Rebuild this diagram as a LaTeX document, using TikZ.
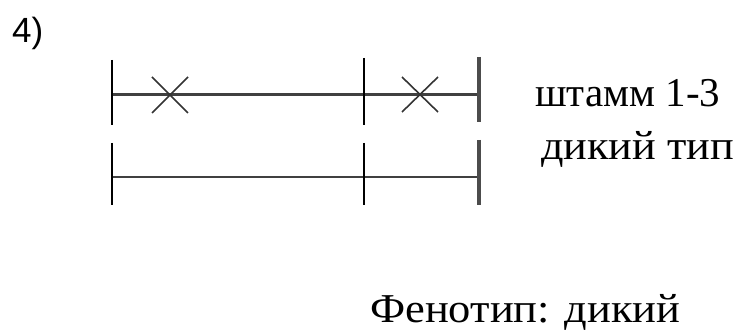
\documentclass[tikz,border=0pt]{standalone}
\usepackage{fontspec}
\setmainfont{Liberation Serif}
\newfontfamily\labelsans{Liberation Sans}
\begin{document}
\begin{tikzpicture}[x=1pt,y=-1pt,
  tick/.style={line width=2pt,black},
  endtick/.style={line width=3.2pt,black!70},
  chrom/.style={line width=2.8pt,black!75},
  mut/.style={line width=1.6pt,black!80},
  lbl/.style={anchor=base west,inner sep=0pt,font=\fontsize{41}{45}\selectfont}]
\useasboundingbox (0,0) rectangle (748,331);
% coordinates
\coordinate (a1) at (111.5,60); \coordinate (a2) at (111.5,125);
\coordinate (b1) at (111.5,143); \coordinate (b2) at (111.5,205);
\coordinate (c1) at (364,58); \coordinate (c2) at (364,125);
\coordinate (d1) at (364,143); \coordinate (d2) at (364,205);
\coordinate (e1) at (479,57); \coordinate (e2) at (479,122);
\coordinate (f1) at (479,140); \coordinate (f2) at (479,205);
\coordinate (hl) at (111.5,94.5); \coordinate (hr) at (479,94.5);
\coordinate (gl) at (111.5,177); \coordinate (gr) at (479,177);
\coordinate (m1) at (170,95); \coordinate (m2) at (420,94);
% chromosomes
\draw[chrom] (hl) -- (hr);
\draw[chrom] (gl) -- (gr);
\draw[tick] (a1) -- (a2);
\draw[tick] (b1) -- (b2);
\draw[tick] (c1) -- (c2);
\draw[tick] (d1) -- (d2);
\draw[endtick] (e1) -- (e2);
\draw[endtick] (f1) -- (f2);
% mutations
\draw[mut] ([shift={(-18,-18)}]m1) -- ([shift={(18,18)}]m1);
\draw[mut] ([shift={(-18,18)}]m1) -- ([shift={(18,-18)}]m1);
\draw[mut] ([shift={(-18,-17)}]m2) -- ([shift={(18,18)}]m2);
\draw[mut] ([shift={(-18,18)}]m2) -- ([shift={(18,-17)}]m2);
% labels
\node[anchor=base west,inner sep=0pt,font=\labelsans\fontsize{35}{40}\selectfont] (num) at (12,43) {4)};
\node[lbl] (s1) at (535,107) {штамм 1-3};
\node[lbl] (s2) at (541,160) {\scalebox{1.08}[1]{дикий тип}};
\node[lbl] (ph) at (370,323) {\scalebox{1.085}[1]{Фенотип: дикий}};
\end{tikzpicture}
\end{document}
